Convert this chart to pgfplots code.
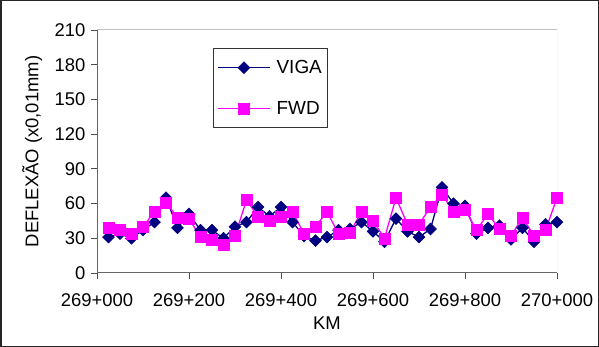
\documentclass[border=0pt]{standalone}
\usepackage{fontspec}
\setmainfont{Liberation Sans}
\usepackage{pgfplots}
\pgfplotsset{compat=1.18}
\usepackage{pgfplotstable}
\definecolor{viga}{HTML}{000080}
\definecolor{fwd}{HTML}{FF00FF}
\pgfplotstableread{
x viga fwd
25 31 39
50 34 37
75 30 34
100 37 40
125 44 53
150 65 61
175 39 48
200 51 47
225 37 31
250 37 29
275 30 24
300 40 32
325 44 63
350 57 49
375 49 45
400 57 49
425 44 53
450 32 34
475 28 40
500 31 53
525 37 34
550 38 35
575 44 53
600 36 45
625 27 30
650 47 65
675 36 42
700 31 42
725 38 57
750 74 68
775 60 53
800 58 55
825 34 37
850 39 51
875 41 38
900 29 32
925 39 48
950 27 32
975 42 37
1000 44 65
}\datatable
\begin{document}
\begin{tikzpicture}
\useasboundingbox (0,0) rectangle (599bp,347bp);
\draw[line width=1.5bp, black!85] (0.75bp,0.75bp) rectangle (598.25bp,346.25bp);
\begin{axis}[
  at={(97bp,74bp)}, anchor=south west,
  scale only axis, width=460bp, height=243bp,
  xmin=0, xmax=1000, ymin=0, ymax=210,
  xtick={0,200,400,600,800,1000},
  xticklabels={269+000,269+200,269+400,269+600,269+800,270+000},
  ytick={0,30,...,210},
  axis lines*=left,
  axis line style={black!60, line width=1bp},
  tick align=outside,
  tick style={black!70, line width=0.8bp},
  major tick length=6bp,
  /pgf/number format/assume math mode=true,
  ticklabel style={font=\fontsize{18.5}{20}\selectfont},
  xticklabel style={yshift=-11bp},
  yticklabel style={xshift=-2bp},
  xlabel={KM},
  ylabel={DEFLEXÃO (x0,01mm)},
  label style={font=\fontsize{18.5}{20}\selectfont},
  xlabel style={at={(axis description cs:0.5,-0.206)}, anchor=center},
  ylabel style={at={(axis description cs:-0.141,0.5)}, anchor=center},
  legend style={at={(axis description cs:0.252,0.926)}, anchor=north west,
    draw=black!80, line width=0.8bp, font=\fontsize{19}{21}\selectfont,
    inner xsep=4bp, inner ysep=10bp, row sep=22bp,
    /tikz/every odd column/.append style={column sep=4bp}},
  legend cell align=left,
  legend image code/.code={\draw[mark repeat=2,mark phase=2] plot coordinates {(0bp,0bp) (26bp,0bp) (52bp,0bp)};},
]
\draw[black!25, line width=1bp] (rel axis cs:0,1) -- (rel axis cs:1,1) -- (rel axis cs:1,0);
\addplot[color=viga, line width=1.3bp, mark=square*, mark size=4.2bp, mark options={rotate=45, fill=viga, draw=viga, line width=0.5bp}] table[x=x, y=viga] {\datatable};
\addlegendentry{VIGA}
\addplot[color=fwd, line width=1.3bp, mark=square*, mark size=5.5bp, mark options={fill=fwd, draw=fwd, line width=0.5bp}] table[x=x, y=fwd] {\datatable};
\addlegendentry{FWD}
\end{axis}
\end{tikzpicture}
\end{document}
